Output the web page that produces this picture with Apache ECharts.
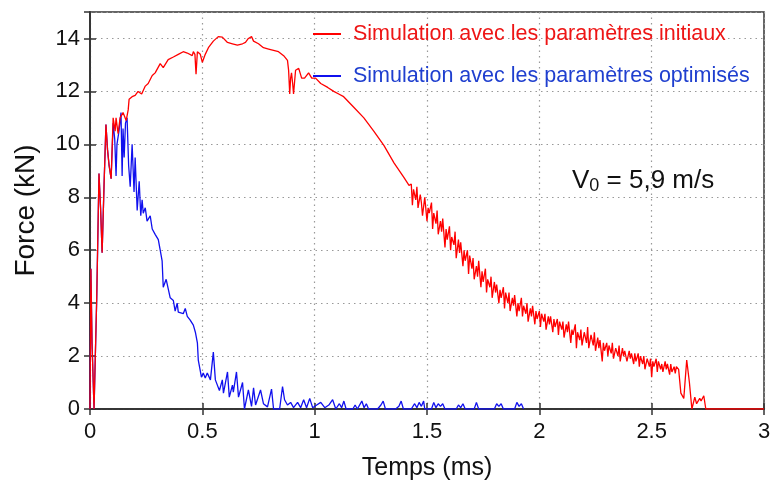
<!DOCTYPE html>
<html><head><meta charset="utf-8">
<script src="https://cdn.jsdelivr.net/npm/echarts@6/dist/echarts.min.js"></script>
<style>html,body{margin:0;padding:0;background:#fff}#c{width:776px;height:488px}</style>
</head><body><div id="c"></div>
<script>
const seriesNames = ['Simulation avec les paramètres initiaux', 'Simulation avec les paramètres optimisés'];
const xTicks = [0, 0.5, 1, 1.5, 2, 2.5, 3];
const yTicks = [0, 2, 4, 6, 8, 10, 12, 14];
const annotation = 'V0 = 5,9 m/s';

// Red: initial parameters  [time (ms), force (kN)]
const redSmooth = [
[0,0],[0.004,5.3],[0.009,2.5],[0.018,0],[0.03,4.2],[0.04,8.9],[0.047,7.6],[0.054,5.9],[0.063,8.6],[0.071,10.75],[0.078,9.8],[0.085,9.2],[0.094,8.7],[0.103,11.0],[0.112,10.5],[0.116,11.0],[0.125,10.4],[0.134,11.0],[0.147,11.2],[0.161,10.9],[0.170,11.3],[0.174,11.7],[0.1875,11.8],[0.201,11.85],[0.214,12.0],[0.23,11.9],[0.246,12.2],[0.259,12.3],[0.277,12.6],[0.290,12.7],[0.3125,13.05],[0.326,12.9],[0.348,13.2],[0.371,13.3],[0.393,13.4],[0.415,13.5],[0.433,13.45],[0.455,13.35],[0.46,13.5],[0.467,13.4],[0.472,12.65],[0.478,13.5],[0.491,13.4],[0.5,13.1],[0.513,13.4],[0.527,13.65],[0.549,13.9],[0.571,14.07],[0.589,14.05],[0.612,13.85],[0.634,13.8],[0.656,13.75],[0.679,13.8],[0.692,13.85],[0.705,14.0],[0.719,14.07],[0.728,13.9],[0.75,13.8],[0.772,13.65],[0.795,13.6],[0.817,13.55],[0.839,13.5],[0.862,13.35],[0.879,13.17],[0.884,12.8],[0.889,11.9],[0.893,12.5],[0.897,12.7],[0.902,12.3],[0.906,11.9],[0.915,12.8],[0.929,12.87],[0.942,12.5],[0.955,12.5],[0.973,12.7],[0.987,12.5],[1.004,12.5],[1.027,12.3],[1.058,12.15],[1.085,12.0],[1.107,11.9],[1.129,11.8],[1.174,11.4],[1.219,11.0],[1.263,10.5],[1.308,9.96],[1.353,9.3],[1.397,8.75],[1.42,8.45]
];
const redNoisy = [
[1.43,8.5],[1.435,7.7],[1.44,8.3],[1.45,7.9],[1.455,8.4],[1.46,7.6],[1.47,8.1],[1.475,7.8],[1.48,7.3],[1.49,8.0],[1.50,7.1],[1.505,7.6],[1.51,7.4],[1.52,7.8],[1.525,6.8],[1.53,7.4],[1.54,7.0],[1.545,7.5],[1.55,6.6],[1.56,7.1],[1.565,6.7],[1.57,7.2],[1.58,6.1],[1.585,6.8],[1.59,6.4],[1.60,6.9],[1.605,6.0],[1.61,6.5],[1.62,6.2],[1.625,6.7],[1.63,5.7],[1.64,6.4],[1.645,5.9],[1.65,6.3],[1.66,5.4],[1.665,6.0],[1.67,5.6],[1.68,6.0],[1.685,5.1],[1.69,5.8],[1.70,5.3],[1.705,5.7],[1.71,4.9],[1.72,5.4],[1.725,5.0],[1.73,5.6],[1.74,4.6],[1.745,5.2],[1.75,4.8],[1.76,5.3],[1.765,4.4],[1.77,4.9],[1.78,4.6],[1.785,5.0],[1.79,4.2],[1.80,4.8],[1.805,4.4],[1.81,4.7],[1.82,4.0],[1.825,4.5],[1.83,4.2],[1.84,4.6],[1.845,3.8],[1.85,4.4],[1.86,4.0],[1.865,4.4],[1.87,3.7],[1.88,4.2],[1.885,3.9],[1.89,4.3],[1.90,3.5],[1.905,4.0],[1.91,3.7],[1.92,4.2],[1.925,3.5],[1.93,3.9],[1.94,3.6],[1.945,4.0],[1.95,3.3],[1.96,3.8],[1.965,3.5],[1.97,3.9],[1.98,3.2],[1.985,3.7],[1.99,3.4],[2.00,3.7],[2.005,3.1],[2.01,3.6],[2.02,3.3],[2.025,3.6],[2.03,3.0],[2.04,3.5],[2.045,3.2],[2.05,3.5],[2.06,2.9],[2.065,3.4],[2.07,3.1],[2.08,3.4],[2.085,2.8],[2.09,3.3],[2.10,3.0],[2.105,3.3],[2.11,2.7],[2.12,3.2],[2.125,2.9],[2.13,3.3],[2.14,2.5],[2.145,3.0],[2.15,2.8],[2.16,3.2],[2.165,2.3],[2.17,2.9],[2.18,2.6],[2.185,3.0],[2.19,2.4],[2.20,2.9],[2.21,2.5],[2.215,3.1],[2.22,2.3],[2.23,2.8],[2.24,2.4],[2.245,2.9],[2.25,2.2],[2.26,2.7],[2.265,2.3],[2.27,2.6],[2.28,1.8],[2.285,2.5],[2.29,2.2],[2.30,2.5],[2.305,2.0],[2.31,2.4],[2.32,2.1],[2.325,2.5],[2.33,1.9],[2.34,2.3],[2.35,2.0],[2.355,2.4],[2.36,1.8],[2.37,2.3],[2.375,2.0],[2.38,2.2],[2.39,1.8],[2.40,2.2],[2.405,1.9],[2.41,2.1],[2.42,1.7],[2.425,2.1],[2.43,1.8],[2.44,2.1],[2.445,1.6],[2.45,2.0],[2.46,1.7],[2.465,2.0],[2.47,1.5],[2.48,1.9],[2.49,1.6],[2.495,1.9],[2.50,1.2],[2.505,1.8],[2.51,1.6],[2.52,1.9],[2.525,1.4],[2.53,1.8],[2.54,1.5],[2.545,1.7],[2.55,1.4],[2.56,1.8],[2.565,1.5],[2.57,1.7],[2.58,1.3],[2.585,1.7],[2.59,1.4],[2.60,1.6],[2.605,1.35],[2.61,1.6],[2.62,1.5]
];
const redTail = [
[2.63,0.6],[2.643,0.4],[2.656,1.85],[2.668,1.0],[2.679,0],[2.692,0.45],[2.70,0.2],[2.714,0.4],[2.72,0.3],[2.732,0.5],[2.741,0],[3.0,0]
];

// Blue: optimised parameters
const blueStart = [
[0,0],[0.004,5.3],[0.009,2.5],[0.018,0],[0.03,4.2],[0.04,8.9],[0.047,7.6],[0.054,5.9],[0.063,8.6],[0.071,10.75],[0.078,9.8],[0.085,9.2],[0.094,8.7],[0.103,10.8]
];
const blueDecay = [
[0.11,10.2],[0.116,8.8],[0.12,10.0],[0.129,10.5],[0.138,11.2],[0.143,8.8],[0.147,10.6],[0.152,9.5],[0.158,10.8],[0.165,11.0],[0.172,9.2],[0.179,8.4],[0.1875,10.0],[0.196,8.2],[0.201,9.5],[0.21,7.5],[0.219,8.6],[0.226,7.3],[0.232,7.9],[0.237,7.4],[0.246,7.6],[0.254,7.1],[0.268,7.3],[0.277,6.8],[0.29,6.6],[0.304,6.4],[0.3125,6.0],[0.321,5.6],[0.326,4.6],[0.339,4.9],[0.348,4.55],[0.357,4.2],[0.371,4.1],[0.379,3.7],[0.388,4.0],[0.393,3.66],[0.415,3.6],[0.424,3.8],[0.433,3.5],[0.446,3.36],[0.46,3.17],[0.469,2.9],[0.478,2.5],[0.482,1.85],[0.496,1.2],[0.504,1.36],[0.513,1.17],[0.522,1.36],[0.536,1.1],[0.549,2.15],[0.558,1.1],[0.576,0.7],[0.589,1.1],[0.594,0.6],[0.612,1.4],[0.62,0.45],[0.634,0.9],[0.638,0.64],[0.652,1.4],[0.661,0.45],[0.679,1.0],[0.6875,0],[0.705,0.72],[0.719,0.1],[0.728,0.8],[0.737,0.15],[0.759,0.72],[0.772,0.2],[0.79,0.08],[0.808,0.75],[0.817,0],[0.844,0],[0.857,0.85],[0.866,0.35],[0.879,0.15],[0.893,0.25],[0.906,0.05],[0.924,0.25],[0.9375,0.05],[0.951,0.35],[0.964,0.05],[0.978,0.4],[0.991,0.05],[1.009,0.15],[1.027,0.25],[1.045,0.05],[1.063,0.15],[1.08,0.35],[1.094,0]
];
const blueTail = [
[1.11,0.2],[1.12,0.05],[1.13,0.3],[1.14,0],[1.17,0],[1.18,0.15],[1.19,0],[1.21,0.3],[1.22,0.05],[1.23,0.2],[1.24,0],[1.28,0],[1.295,0.15],[1.305,0.3],[1.315,0],[1.36,0],[1.375,0.1],[1.385,0.3],[1.395,0],[1.43,0],[1.445,0.2],[1.455,0.05],[1.465,0.25],[1.475,0.1],[1.485,0.3],[1.49,0],[1.52,0],[1.53,0.25],[1.54,0.05],[1.55,0.2],[1.56,0.1],[1.57,0.2],[1.58,0],[1.63,0],[1.64,0.15],[1.65,0.05],[1.66,0.2],[1.67,0],[1.71,0],[1.72,0.25],[1.73,0],[1.8,0],[1.81,0.2],[1.82,0.1],[1.83,0.2],[1.84,0],[1.89,0],[1.9,0.25],[1.91,0.1],[1.92,0.2],[1.93,0]
];

const redData = redSmooth.concat(redNoisy, redTail);
const blueData = blueStart.concat(blueDecay, blueTail);

const FONT = '"Liberation Sans", Arial, sans-serif';
const chart = echarts.init(document.getElementById('c'), null, {renderer: 'canvas'});
const axisLineStyle = {color: '#333', width: 1.5};
chart.setOption({
  backgroundColor: '#fff',
  animation: false,
  grid: {left: 90, right: 12, top: 12, bottom: 79, show: true, borderColor: '#333', borderWidth: 1.5, backgroundColor: 'transparent'},
  legend: {
    orient: 'vertical', left: 313, top: 23, padding: 0, itemGap: 20, itemWidth: 28, itemHeight: 2,
    icon: 'rect',
    data: [
      {name: seriesNames[0], textStyle: {color: '#ee1515'}},
      {name: seriesNames[1], textStyle: {color: '#1f3fcf'}}
    ],
    textStyle: {fontFamily: FONT, fontSize: 21.5, padding: [0, 0, 0, 7]}
  },
  xAxis: [{
    type: 'value', min: 0, max: 3, interval: 0.5,
    name: 'Temps (ms)', nameLocation: 'middle', nameGap: 47,
    nameTextStyle: {fontFamily: FONT, fontSize: 25, color: '#111'},
    axisLine: {lineStyle: axisLineStyle},
    axisTick: {inside: true, length: 6, lineStyle: {color: '#333', width: 1.5}},
    axisLabel: {fontFamily: FONT, fontSize: 22, color: '#111', margin: 12},
    splitLine: {show: true, lineStyle: {color: '#999', width: 1.2, type: [1.5, 4]}}
  }, {
    type: 'value', min: 0, max: 3, interval: 0.5, position: 'top',
    axisLine: {lineStyle: axisLineStyle},
    axisTick: {inside: true, length: 6, lineStyle: {color: '#333', width: 1.5}},
    axisLabel: {show: false}, splitLine: {show: false}
  }],
  yAxis: [{
    type: 'value', min: 0, max: 15, interval: 2,
    name: 'Force (kN)', nameLocation: 'middle', nameGap: 50, nameRotate: 90,
    nameTextStyle: {fontFamily: FONT, fontSize: 28, color: '#111'},
    axisLine: {lineStyle: axisLineStyle},
    axisTick: {inside: true, length: 6, lineStyle: {color: '#333', width: 1.5}},
    axisLabel: {fontFamily: FONT, fontSize: 22, color: '#111', margin: 10, showMaxLabel: false},
    splitLine: {show: true, lineStyle: {color: '#999', width: 1.2, type: [1.5, 4]}}
  }, {
    type: 'value', min: 0, max: 15, interval: 2, position: 'right',
    axisLine: {lineStyle: axisLineStyle},
    axisTick: {inside: true, length: 6, lineStyle: {color: '#333', width: 1.5}},
    axisLabel: {show: false}, splitLine: {show: false}
  }],
  series: [
    {name: seriesNames[0], type: 'line', data: redData, symbol: 'none', z: 4,
     lineStyle: {color: '#ff0000', width: 1.3}, itemStyle: {color: '#ff0000'}},
    {name: seriesNames[1], type: 'line', data: blueData, symbol: 'none', z: 3,
     lineStyle: {color: '#1010ee', width: 1.3}, itemStyle: {color: '#1010ee'}}
  ],
  graphic: [{
    type: 'text', left: 572, top: 168, z: 10,
    style: {
      text: '{a|V}{s|0}{a| = 5,9 m/s}',
      rich: {
        a: {fontFamily: FONT, fontSize: 26, fill: '#111'},
        s: {fontFamily: FONT, fontSize: 18, fill: '#111', padding: [11, 0, 0, 0]}
      }
    }
  }]
});
</script></body></html>
